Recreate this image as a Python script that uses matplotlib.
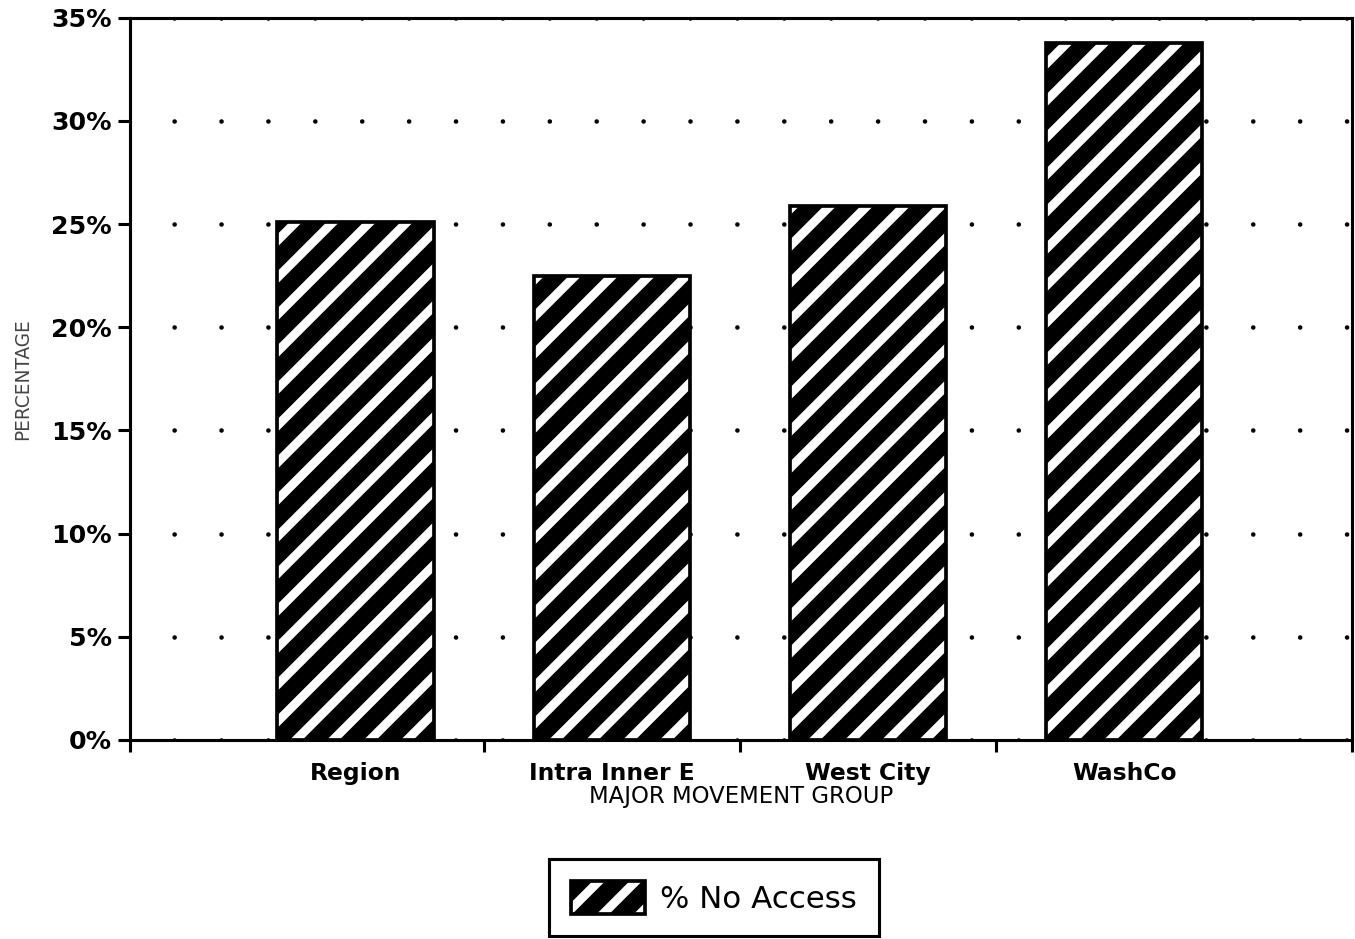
import matplotlib
matplotlib.use('Agg')
import matplotlib.pyplot as plt
import numpy as np

# values
groups = ['Region', 'Intra Inner E', 'West City', 'WashCo']
no_access = [25.1, 22.5, 25.9, 33.8]
yticks = [0, 5, 10, 15, 20, 25, 30, 35]
series_label = '% No Access'

DPI = 222
plt.rcParams.update({
  'font.family': ['DejaVu Sans'],
  'hatch.linewidth': 2.9,
  'lines.scale_dashes': False,
})

fig = plt.figure(figsize=(1355 / DPI, 939 / DPI), dpi=DPI)
ax = fig.add_axes([0.096, 0.212, 0.902, 0.769])

x = np.arange(len(groups))
width = 0.61
hatched = ax.bar(x, no_access, width, color='black', edgecolor='white',
                 hatch='//', linewidth=0, zorder=2)
outline = ax.bar(x, no_access, width, fill=False, edgecolor='black',
                 linewidth=1.2, zorder=3)

ax.set_xlim(-0.88, 3.89)
ax.set_ylim(0, 35)
ax.set_yticks(yticks)
ax.set_yticklabels([f'{v}%' for v in yticks], fontsize=8.2, fontweight='bold')
ax.set_xticks(x)
ax.set_xticklabels(groups, fontsize=7.6, fontweight='bold')
ax.tick_params(axis='x', which='major', length=0, pad=7)
ax.set_xticks(list(x[:-1] + 0.5) + list(ax.get_xlim()), minor=True)
ax.tick_params(axis='x', which='minor', length=4, width=1.0, direction='out')
ax.tick_params(axis='y', length=4, width=1.0, direction='out', pad=2)

for sp in ax.spines.values():
  sp.set_linewidth(1.0)

ax.set_axisbelow(True)
ax.yaxis.grid(True, color='black', linewidth=1.5, linestyle=(0.9, (0.01, 15.2)),
              dash_capstyle='round')

ax.set_xlabel('MAJOR MOVEMENT GROUP', fontsize=7.4, labelpad=0)
ax.set_ylabel('PERCENTAGE', fontsize=6, color='#444444', labelpad=6)

leg = fig.legend(handles=[(hatched, outline)], labels=[series_label],
                 loc='lower center', bbox_to_anchor=(0.527, 0.0),
                 borderaxespad=0.1, fontsize=10, frameon=True, fancybox=False,
                 framealpha=1, handlelength=2.4, handleheight=1.3,
                 borderpad=0.7, handletextpad=0.5)
leg.get_frame().set_edgecolor('black')
leg.get_frame().set_linewidth(1.0)

plt.savefig('out.png', dpi=DPI)
plt.close()
